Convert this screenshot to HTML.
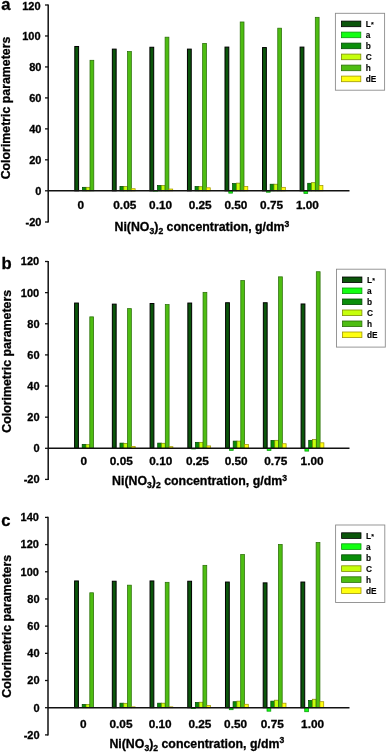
<!DOCTYPE html>
<html><head><meta charset="utf-8"><style>
html,body{margin:0;padding:0;background:#fff;}
body{width:387px;height:752px;overflow:hidden;}
svg{display:block;filter:blur(0.3px);}
text{font-family:"Liberation Sans", sans-serif;font-weight:bold;fill:#000;stroke:#000;stroke-width:0.3px;}
.t{font-size:11px;}
.xt{font-size:12.35px;}
.sub{font-size:8.6px;}
.yt{font-size:12.35px;}
.lt{font-size:16.6px;}
.lg{font-size:8.3px;stroke-width:0.12px;}
.ast{font-size:7px;}
</style></head><body>
<svg width="387" height="752" viewBox="0 0 387 752">
<rect x="0" y="0" width="387" height="752" fill="#fff"/>
<rect x="74.80" y="46.48" width="3.80" height="144.32" fill="#0b560b" stroke="#000000" stroke-width="1.0"/>
<rect x="82.40" y="187.33" width="3.80" height="3.47" fill="#0a8e0a" stroke="#034a03" stroke-width="0.75"/>
<rect x="86.20" y="187.33" width="3.80" height="3.47" fill="#c6ff0c" stroke="#7e8e06" stroke-width="0.75"/>
<rect x="90.00" y="60.29" width="3.80" height="130.51" fill="#4ebd12" stroke="#2a6e08" stroke-width="0.75"/>
<rect x="93.80" y="190.82" width="3.80" height="-0.02" fill="#ffff10" stroke="#a09800" stroke-width="0.75"/>
<rect x="112.35" y="49.12" width="3.80" height="141.68" fill="#0b560b" stroke="#000000" stroke-width="1.0"/>
<rect x="119.95" y="186.40" width="3.80" height="4.40" fill="#0a8e0a" stroke="#034a03" stroke-width="0.75"/>
<rect x="123.75" y="186.55" width="3.80" height="4.25" fill="#c6ff0c" stroke="#7e8e06" stroke-width="0.75"/>
<rect x="127.55" y="51.60" width="3.80" height="139.20" fill="#4ebd12" stroke="#2a6e08" stroke-width="0.75"/>
<rect x="131.35" y="188.72" width="3.80" height="2.08" fill="#ffff10" stroke="#a09800" stroke-width="0.75"/>
<rect x="149.90" y="47.26" width="3.80" height="143.54" fill="#0b560b" stroke="#000000" stroke-width="1.0"/>
<rect x="153.70" y="190.80" width="3.80" height="0.33" fill="#12ff12" stroke="#0a9a0a" stroke-width="0.75"/>
<rect x="157.50" y="185.47" width="3.80" height="5.33" fill="#0a8e0a" stroke="#034a03" stroke-width="0.75"/>
<rect x="161.30" y="185.62" width="3.80" height="5.18" fill="#c6ff0c" stroke="#7e8e06" stroke-width="0.75"/>
<rect x="165.10" y="37.18" width="3.80" height="153.62" fill="#4ebd12" stroke="#2a6e08" stroke-width="0.75"/>
<rect x="168.90" y="189.03" width="3.80" height="1.77" fill="#ffff10" stroke="#a09800" stroke-width="0.75"/>
<rect x="187.45" y="49.12" width="3.80" height="141.68" fill="#0b560b" stroke="#000000" stroke-width="1.0"/>
<rect x="195.05" y="186.55" width="3.80" height="4.25" fill="#0a8e0a" stroke="#034a03" stroke-width="0.75"/>
<rect x="198.85" y="186.71" width="3.80" height="4.09" fill="#c6ff0c" stroke="#7e8e06" stroke-width="0.75"/>
<rect x="202.65" y="43.38" width="3.80" height="147.42" fill="#4ebd12" stroke="#2a6e08" stroke-width="0.75"/>
<rect x="206.45" y="187.79" width="3.80" height="3.01" fill="#ffff10" stroke="#a09800" stroke-width="0.75"/>
<rect x="225.00" y="47.10" width="3.80" height="143.70" fill="#0b560b" stroke="#000000" stroke-width="1.0"/>
<rect x="228.80" y="190.80" width="3.80" height="2.34" fill="#12ff12" stroke="#0a9a0a" stroke-width="0.75"/>
<rect x="232.60" y="183.61" width="3.80" height="7.19" fill="#0a8e0a" stroke="#034a03" stroke-width="0.75"/>
<rect x="236.40" y="183.14" width="3.80" height="7.66" fill="#c6ff0c" stroke="#7e8e06" stroke-width="0.75"/>
<rect x="240.20" y="21.98" width="3.80" height="168.82" fill="#4ebd12" stroke="#2a6e08" stroke-width="0.75"/>
<rect x="244.00" y="186.40" width="3.80" height="4.40" fill="#ffff10" stroke="#a09800" stroke-width="0.75"/>
<rect x="262.55" y="47.57" width="3.80" height="143.23" fill="#0b560b" stroke="#000000" stroke-width="1.0"/>
<rect x="266.35" y="190.80" width="3.80" height="1.41" fill="#12ff12" stroke="#0a9a0a" stroke-width="0.75"/>
<rect x="270.15" y="184.23" width="3.80" height="6.57" fill="#0a8e0a" stroke="#034a03" stroke-width="0.75"/>
<rect x="273.95" y="184.23" width="3.80" height="6.57" fill="#c6ff0c" stroke="#7e8e06" stroke-width="0.75"/>
<rect x="277.75" y="28.18" width="3.80" height="162.62" fill="#4ebd12" stroke="#2a6e08" stroke-width="0.75"/>
<rect x="281.55" y="187.33" width="3.80" height="3.47" fill="#ffff10" stroke="#a09800" stroke-width="0.75"/>
<rect x="300.10" y="47.10" width="3.80" height="143.70" fill="#0b560b" stroke="#000000" stroke-width="1.0"/>
<rect x="303.90" y="190.80" width="3.80" height="2.65" fill="#12ff12" stroke="#0a9a0a" stroke-width="0.75"/>
<rect x="307.70" y="183.29" width="3.80" height="7.51" fill="#0a8e0a" stroke="#034a03" stroke-width="0.75"/>
<rect x="311.50" y="182.67" width="3.80" height="8.13" fill="#c6ff0c" stroke="#7e8e06" stroke-width="0.75"/>
<rect x="315.30" y="17.32" width="3.80" height="173.48" fill="#4ebd12" stroke="#2a6e08" stroke-width="0.75"/>
<rect x="319.10" y="185.62" width="3.80" height="5.18" fill="#ffff10" stroke="#a09800" stroke-width="0.75"/>
<line x1="48.20" y1="190.80" x2="349.50" y2="190.80" stroke="#111" stroke-width="1.5"/>
<line x1="48.20" y1="4.40" x2="48.20" y2="222.60" stroke="#111" stroke-width="1.5"/>
<line x1="45.0" y1="222.00" x2="48.20" y2="222.00" stroke="#111" stroke-width="1.3"/>
<text x="41.40" y="225.90" text-anchor="end" class="t">-20</text>
<line x1="45.0" y1="190.80" x2="48.20" y2="190.80" stroke="#111" stroke-width="1.3"/>
<text x="41.40" y="194.70" text-anchor="end" class="t">0</text>
<line x1="45.0" y1="159.83" x2="48.20" y2="159.83" stroke="#111" stroke-width="1.3"/>
<text x="41.40" y="163.73" text-anchor="end" class="t">20</text>
<line x1="45.0" y1="128.87" x2="48.20" y2="128.87" stroke="#111" stroke-width="1.3"/>
<text x="41.40" y="132.77" text-anchor="end" class="t">40</text>
<line x1="45.0" y1="97.90" x2="48.20" y2="97.90" stroke="#111" stroke-width="1.3"/>
<text x="41.40" y="101.80" text-anchor="end" class="t">60</text>
<line x1="45.0" y1="66.93" x2="48.20" y2="66.93" stroke="#111" stroke-width="1.3"/>
<text x="41.40" y="70.83" text-anchor="end" class="t">80</text>
<line x1="45.0" y1="35.97" x2="48.20" y2="35.97" stroke="#111" stroke-width="1.3"/>
<text x="40.60" y="39.87" text-anchor="end" class="t">100</text>
<line x1="45.0" y1="5.00" x2="48.20" y2="5.00" stroke="#111" stroke-width="1.3"/>
<text x="40.60" y="10.00" text-anchor="end" class="t">120</text>
<text transform="translate(77.50,209.00) scale(1.075,1)" class="t xl">0</text>
<text transform="translate(113.30,209.00) scale(1.075,1)" class="t xl">0.05</text>
<text transform="translate(149.10,209.00) scale(1.075,1)" class="t xl">0.10</text>
<text transform="translate(188.70,209.00) scale(1.075,1)" class="t xl">0.25</text>
<text transform="translate(224.40,209.00) scale(1.075,1)" class="t xl">0.50</text>
<text transform="translate(260.10,209.00) scale(1.075,1)" class="t xl">0.75</text>
<text transform="translate(295.90,209.00) scale(1.075,1)" class="t xl">1.00</text>
<text x="114.50" y="231.20" class="xt">Ni(NO<tspan dy="3" class="sub">3</tspan><tspan dy="-3">)</tspan><tspan dy="3" class="sub">2</tspan><tspan dy="-3"> concentration, g/dm</tspan><tspan dy="-4.6" class="sub">3</tspan></text>
<text transform="translate(9.60,108.00) rotate(-90)" text-anchor="middle" class="yt">Colorimetric parameters</text>
<text x="1.20" y="10.40" class="lt">a</text>
<rect x="335.40" y="13.30" width="49.20" height="76.90" fill="#fff" stroke="#8c8c8c" stroke-width="0.9"/>
<rect x="341.40" y="21.10" width="19.4" height="5.6" fill="#0b560b" stroke="#000000" stroke-width="0.8"/>
<text x="365.80" y="27.20" class="lg">L<tspan class="ast" dx="0.2">*</tspan></text>
<rect x="341.40" y="32.10" width="19.4" height="5.6" fill="#12ff12" stroke="#0a9a0a" stroke-width="0.8"/>
<text x="365.80" y="38.20" class="lg">a</text>
<rect x="341.40" y="43.10" width="19.4" height="5.6" fill="#0a8e0a" stroke="#034a03" stroke-width="0.8"/>
<text x="365.80" y="49.20" class="lg">b</text>
<rect x="341.40" y="54.10" width="19.4" height="5.6" fill="#c6ff0c" stroke="#7e8e06" stroke-width="0.8"/>
<text x="365.80" y="60.20" class="lg">C</text>
<rect x="341.40" y="65.10" width="19.4" height="5.6" fill="#4ebd12" stroke="#2a6e08" stroke-width="0.8"/>
<text x="365.80" y="71.20" class="lg">h</text>
<rect x="341.40" y="76.10" width="19.4" height="5.6" fill="#ffff10" stroke="#a09800" stroke-width="0.8"/>
<text x="365.80" y="82.20" class="lg">dE</text>
<rect x="74.60" y="303.05" width="3.80" height="145.25" fill="#0b560b" stroke="#000000" stroke-width="1.0"/>
<rect x="82.20" y="444.36" width="3.80" height="3.94" fill="#0a8e0a" stroke="#034a03" stroke-width="0.75"/>
<rect x="86.00" y="444.67" width="3.80" height="3.63" fill="#c6ff0c" stroke="#7e8e06" stroke-width="0.75"/>
<rect x="89.80" y="316.85" width="3.80" height="131.45" fill="#4ebd12" stroke="#2a6e08" stroke-width="0.75"/>
<rect x="112.35" y="304.14" width="3.80" height="144.16" fill="#0b560b" stroke="#000000" stroke-width="1.0"/>
<rect x="119.95" y="443.12" width="3.80" height="5.18" fill="#0a8e0a" stroke="#034a03" stroke-width="0.75"/>
<rect x="123.75" y="443.43" width="3.80" height="4.87" fill="#c6ff0c" stroke="#7e8e06" stroke-width="0.75"/>
<rect x="127.55" y="308.63" width="3.80" height="139.67" fill="#4ebd12" stroke="#2a6e08" stroke-width="0.75"/>
<rect x="131.35" y="446.38" width="3.80" height="1.92" fill="#ffff10" stroke="#a09800" stroke-width="0.75"/>
<rect x="150.10" y="303.52" width="3.80" height="144.78" fill="#0b560b" stroke="#000000" stroke-width="1.0"/>
<rect x="157.70" y="443.12" width="3.80" height="5.18" fill="#0a8e0a" stroke="#034a03" stroke-width="0.75"/>
<rect x="161.50" y="443.28" width="3.80" height="5.02" fill="#c6ff0c" stroke="#7e8e06" stroke-width="0.75"/>
<rect x="165.30" y="304.60" width="3.80" height="143.70" fill="#4ebd12" stroke="#2a6e08" stroke-width="0.75"/>
<rect x="169.10" y="446.69" width="3.80" height="1.61" fill="#ffff10" stroke="#a09800" stroke-width="0.75"/>
<rect x="187.85" y="303.05" width="3.80" height="145.25" fill="#0b560b" stroke="#000000" stroke-width="1.0"/>
<rect x="191.65" y="448.30" width="3.80" height="0.64" fill="#12ff12" stroke="#0a9a0a" stroke-width="0.75"/>
<rect x="195.45" y="442.35" width="3.80" height="5.95" fill="#0a8e0a" stroke="#034a03" stroke-width="0.75"/>
<rect x="199.25" y="442.35" width="3.80" height="5.95" fill="#c6ff0c" stroke="#7e8e06" stroke-width="0.75"/>
<rect x="203.05" y="292.35" width="3.80" height="155.95" fill="#4ebd12" stroke="#2a6e08" stroke-width="0.75"/>
<rect x="206.85" y="445.91" width="3.80" height="2.39" fill="#ffff10" stroke="#a09800" stroke-width="0.75"/>
<rect x="225.60" y="302.74" width="3.80" height="145.56" fill="#0b560b" stroke="#000000" stroke-width="1.0"/>
<rect x="229.40" y="448.30" width="3.80" height="2.03" fill="#12ff12" stroke="#0a9a0a" stroke-width="0.75"/>
<rect x="233.20" y="441.11" width="3.80" height="7.19" fill="#0a8e0a" stroke="#034a03" stroke-width="0.75"/>
<rect x="237.00" y="441.11" width="3.80" height="7.19" fill="#c6ff0c" stroke="#7e8e06" stroke-width="0.75"/>
<rect x="240.80" y="280.56" width="3.80" height="167.74" fill="#4ebd12" stroke="#2a6e08" stroke-width="0.75"/>
<rect x="244.60" y="444.52" width="3.80" height="3.78" fill="#ffff10" stroke="#a09800" stroke-width="0.75"/>
<rect x="263.35" y="302.74" width="3.80" height="145.56" fill="#0b560b" stroke="#000000" stroke-width="1.0"/>
<rect x="267.15" y="448.30" width="3.80" height="2.19" fill="#12ff12" stroke="#0a9a0a" stroke-width="0.75"/>
<rect x="270.95" y="440.48" width="3.80" height="7.82" fill="#0a8e0a" stroke="#034a03" stroke-width="0.75"/>
<rect x="274.75" y="440.33" width="3.80" height="7.97" fill="#c6ff0c" stroke="#7e8e06" stroke-width="0.75"/>
<rect x="278.55" y="276.84" width="3.80" height="171.46" fill="#4ebd12" stroke="#2a6e08" stroke-width="0.75"/>
<rect x="282.35" y="443.74" width="3.80" height="4.56" fill="#ffff10" stroke="#a09800" stroke-width="0.75"/>
<rect x="301.10" y="303.98" width="3.80" height="144.32" fill="#0b560b" stroke="#000000" stroke-width="1.0"/>
<rect x="304.90" y="448.30" width="3.80" height="2.81" fill="#12ff12" stroke="#0a9a0a" stroke-width="0.75"/>
<rect x="308.70" y="440.33" width="3.80" height="7.97" fill="#0a8e0a" stroke="#034a03" stroke-width="0.75"/>
<rect x="312.50" y="439.55" width="3.80" height="8.75" fill="#c6ff0c" stroke="#7e8e06" stroke-width="0.75"/>
<rect x="316.30" y="271.72" width="3.80" height="176.58" fill="#4ebd12" stroke="#2a6e08" stroke-width="0.75"/>
<rect x="320.10" y="442.81" width="3.80" height="5.49" fill="#ffff10" stroke="#a09800" stroke-width="0.75"/>
<line x1="48.20" y1="448.30" x2="349.50" y2="448.30" stroke="#111" stroke-width="1.5"/>
<line x1="48.20" y1="260.90" x2="48.20" y2="480.00" stroke="#111" stroke-width="1.5"/>
<line x1="45.0" y1="479.40" x2="48.20" y2="479.40" stroke="#111" stroke-width="1.3"/>
<text x="39.60" y="483.30" text-anchor="end" class="t">-20</text>
<line x1="45.0" y1="448.30" x2="48.20" y2="448.30" stroke="#111" stroke-width="1.3"/>
<text x="39.60" y="452.20" text-anchor="end" class="t">0</text>
<line x1="45.0" y1="417.17" x2="48.20" y2="417.17" stroke="#111" stroke-width="1.3"/>
<text x="39.60" y="421.07" text-anchor="end" class="t">20</text>
<line x1="45.0" y1="386.03" x2="48.20" y2="386.03" stroke="#111" stroke-width="1.3"/>
<text x="39.60" y="389.93" text-anchor="end" class="t">40</text>
<line x1="45.0" y1="354.90" x2="48.20" y2="354.90" stroke="#111" stroke-width="1.3"/>
<text x="39.60" y="358.80" text-anchor="end" class="t">60</text>
<line x1="45.0" y1="323.77" x2="48.20" y2="323.77" stroke="#111" stroke-width="1.3"/>
<text x="39.60" y="327.67" text-anchor="end" class="t">80</text>
<line x1="45.0" y1="292.63" x2="48.20" y2="292.63" stroke="#111" stroke-width="1.3"/>
<text x="39.20" y="296.53" text-anchor="end" class="t">100</text>
<line x1="45.0" y1="261.50" x2="48.20" y2="261.50" stroke="#111" stroke-width="1.3"/>
<text x="39.20" y="265.40" text-anchor="end" class="t">120</text>
<text transform="translate(80.50,464.80) scale(1.075,1)" class="t xl">0</text>
<text transform="translate(109.80,464.80) scale(1.075,1)" class="t xl">0.05</text>
<text transform="translate(149.30,464.80) scale(1.075,1)" class="t xl">0.10</text>
<text transform="translate(185.90,464.80) scale(1.075,1)" class="t xl">0.25</text>
<text transform="translate(224.70,464.80) scale(1.075,1)" class="t xl">0.50</text>
<text transform="translate(264.30,464.80) scale(1.075,1)" class="t xl">0.75</text>
<text transform="translate(300.60,464.80) scale(1.075,1)" class="t xl">1.00</text>
<text x="112.10" y="485.10" class="xt">Ni(NO<tspan dy="3" class="sub">3</tspan><tspan dy="-3">)</tspan><tspan dy="3" class="sub">2</tspan><tspan dy="-3"> concentration, g/dm</tspan><tspan dy="-4.6" class="sub">3</tspan></text>
<text transform="translate(10.80,361.30) rotate(-90)" text-anchor="middle" class="yt">Colorimetric parameters</text>
<text x="1.40" y="268.70" class="lt">b</text>
<rect x="336.50" y="269.20" width="48.80" height="77.90" fill="#fff" stroke="#8c8c8c" stroke-width="0.9"/>
<rect x="342.50" y="277.00" width="19.4" height="5.6" fill="#0b560b" stroke="#000000" stroke-width="0.8"/>
<text x="366.90" y="283.10" class="lg">L<tspan class="ast" dx="0.2">*</tspan></text>
<rect x="342.50" y="288.00" width="19.4" height="5.6" fill="#12ff12" stroke="#0a9a0a" stroke-width="0.8"/>
<text x="366.90" y="294.10" class="lg">a</text>
<rect x="342.50" y="299.00" width="19.4" height="5.6" fill="#0a8e0a" stroke="#034a03" stroke-width="0.8"/>
<text x="366.90" y="305.10" class="lg">b</text>
<rect x="342.50" y="310.00" width="19.4" height="5.6" fill="#c6ff0c" stroke="#7e8e06" stroke-width="0.8"/>
<text x="366.90" y="316.10" class="lg">C</text>
<rect x="342.50" y="321.00" width="19.4" height="5.6" fill="#4ebd12" stroke="#2a6e08" stroke-width="0.8"/>
<text x="366.90" y="327.10" class="lg">h</text>
<rect x="342.50" y="332.00" width="19.4" height="5.6" fill="#ffff10" stroke="#a09800" stroke-width="0.8"/>
<text x="366.90" y="338.10" class="lg">dE</text>
<rect x="74.60" y="580.96" width="3.80" height="126.74" fill="#0b560b" stroke="#000000" stroke-width="1.0"/>
<rect x="82.20" y="704.42" width="3.80" height="3.28" fill="#0a8e0a" stroke="#034a03" stroke-width="0.75"/>
<rect x="86.00" y="704.55" width="3.80" height="3.15" fill="#c6ff0c" stroke="#7e8e06" stroke-width="0.75"/>
<rect x="89.80" y="592.78" width="3.80" height="114.92" fill="#4ebd12" stroke="#2a6e08" stroke-width="0.75"/>
<rect x="112.32" y="581.24" width="3.80" height="126.46" fill="#0b560b" stroke="#000000" stroke-width="1.0"/>
<rect x="119.92" y="703.19" width="3.80" height="4.51" fill="#0a8e0a" stroke="#034a03" stroke-width="0.75"/>
<rect x="123.72" y="703.33" width="3.80" height="4.37" fill="#c6ff0c" stroke="#7e8e06" stroke-width="0.75"/>
<rect x="127.52" y="585.17" width="3.80" height="122.53" fill="#4ebd12" stroke="#2a6e08" stroke-width="0.75"/>
<rect x="131.32" y="706.86" width="3.80" height="0.84" fill="#ffff10" stroke="#a09800" stroke-width="0.75"/>
<rect x="150.04" y="580.96" width="3.80" height="126.74" fill="#0b560b" stroke="#000000" stroke-width="1.0"/>
<rect x="157.64" y="703.19" width="3.80" height="4.51" fill="#0a8e0a" stroke="#034a03" stroke-width="0.75"/>
<rect x="161.44" y="703.19" width="3.80" height="4.51" fill="#c6ff0c" stroke="#7e8e06" stroke-width="0.75"/>
<rect x="165.24" y="582.32" width="3.80" height="125.38" fill="#4ebd12" stroke="#2a6e08" stroke-width="0.75"/>
<rect x="169.04" y="706.86" width="3.80" height="0.84" fill="#ffff10" stroke="#a09800" stroke-width="0.75"/>
<rect x="187.76" y="581.24" width="3.80" height="126.46" fill="#0b560b" stroke="#000000" stroke-width="1.0"/>
<rect x="191.56" y="707.70" width="3.80" height="0.91" fill="#12ff12" stroke="#0a9a0a" stroke-width="0.75"/>
<rect x="195.36" y="702.52" width="3.80" height="5.18" fill="#0a8e0a" stroke="#034a03" stroke-width="0.75"/>
<rect x="199.16" y="702.24" width="3.80" height="5.46" fill="#c6ff0c" stroke="#7e8e06" stroke-width="0.75"/>
<rect x="202.96" y="565.34" width="3.80" height="142.36" fill="#4ebd12" stroke="#2a6e08" stroke-width="0.75"/>
<rect x="206.76" y="705.50" width="3.80" height="2.20" fill="#ffff10" stroke="#a09800" stroke-width="0.75"/>
<rect x="225.48" y="582.05" width="3.80" height="125.65" fill="#0b560b" stroke="#000000" stroke-width="1.0"/>
<rect x="229.28" y="707.70" width="3.80" height="2.00" fill="#12ff12" stroke="#0a9a0a" stroke-width="0.75"/>
<rect x="233.08" y="701.70" width="3.80" height="6.00" fill="#0a8e0a" stroke="#034a03" stroke-width="0.75"/>
<rect x="236.88" y="701.16" width="3.80" height="6.54" fill="#c6ff0c" stroke="#7e8e06" stroke-width="0.75"/>
<rect x="240.68" y="554.47" width="3.80" height="153.23" fill="#4ebd12" stroke="#2a6e08" stroke-width="0.75"/>
<rect x="244.48" y="704.28" width="3.80" height="3.42" fill="#ffff10" stroke="#a09800" stroke-width="0.75"/>
<rect x="263.20" y="582.87" width="3.80" height="124.83" fill="#0b560b" stroke="#000000" stroke-width="1.0"/>
<rect x="267.00" y="707.70" width="3.80" height="3.49" fill="#12ff12" stroke="#0a9a0a" stroke-width="0.75"/>
<rect x="270.80" y="701.16" width="3.80" height="6.54" fill="#0a8e0a" stroke="#034a03" stroke-width="0.75"/>
<rect x="274.60" y="700.21" width="3.80" height="7.49" fill="#c6ff0c" stroke="#7e8e06" stroke-width="0.75"/>
<rect x="278.40" y="544.42" width="3.80" height="163.28" fill="#4ebd12" stroke="#2a6e08" stroke-width="0.75"/>
<rect x="282.20" y="703.19" width="3.80" height="4.51" fill="#ffff10" stroke="#a09800" stroke-width="0.75"/>
<rect x="300.92" y="582.05" width="3.80" height="125.65" fill="#0b560b" stroke="#000000" stroke-width="1.0"/>
<rect x="304.72" y="707.70" width="3.80" height="4.03" fill="#12ff12" stroke="#0a9a0a" stroke-width="0.75"/>
<rect x="308.52" y="700.48" width="3.80" height="7.22" fill="#0a8e0a" stroke="#034a03" stroke-width="0.75"/>
<rect x="312.32" y="699.25" width="3.80" height="8.45" fill="#c6ff0c" stroke="#7e8e06" stroke-width="0.75"/>
<rect x="316.12" y="542.51" width="3.80" height="165.19" fill="#4ebd12" stroke="#2a6e08" stroke-width="0.75"/>
<rect x="319.92" y="701.70" width="3.80" height="6.00" fill="#ffff10" stroke="#a09800" stroke-width="0.75"/>
<line x1="48.00" y1="707.70" x2="349.50" y2="707.70" stroke="#111" stroke-width="1.5"/>
<line x1="48.00" y1="516.80" x2="48.00" y2="735.50" stroke="#111" stroke-width="1.5"/>
<line x1="45.0" y1="734.90" x2="48.00" y2="734.90" stroke="#111" stroke-width="1.3"/>
<text x="39.60" y="738.80" text-anchor="end" class="t">-20</text>
<line x1="45.0" y1="707.70" x2="48.00" y2="707.70" stroke="#111" stroke-width="1.3"/>
<text x="39.60" y="711.60" text-anchor="end" class="t">0</text>
<line x1="45.0" y1="680.51" x2="48.00" y2="680.51" stroke="#111" stroke-width="1.3"/>
<text x="39.60" y="684.41" text-anchor="end" class="t">20</text>
<line x1="45.0" y1="653.33" x2="48.00" y2="653.33" stroke="#111" stroke-width="1.3"/>
<text x="39.60" y="657.23" text-anchor="end" class="t">40</text>
<line x1="45.0" y1="626.14" x2="48.00" y2="626.14" stroke="#111" stroke-width="1.3"/>
<text x="39.60" y="630.04" text-anchor="end" class="t">60</text>
<line x1="45.0" y1="598.96" x2="48.00" y2="598.96" stroke="#111" stroke-width="1.3"/>
<text x="39.60" y="602.86" text-anchor="end" class="t">80</text>
<line x1="45.0" y1="571.77" x2="48.00" y2="571.77" stroke="#111" stroke-width="1.3"/>
<text x="38.90" y="575.67" text-anchor="end" class="t">100</text>
<line x1="45.0" y1="544.59" x2="48.00" y2="544.59" stroke="#111" stroke-width="1.3"/>
<text x="38.90" y="548.49" text-anchor="end" class="t">120</text>
<line x1="45.0" y1="517.40" x2="48.00" y2="517.40" stroke="#111" stroke-width="1.3"/>
<text x="38.90" y="521.30" text-anchor="end" class="t">140</text>
<text transform="translate(80.10,728.00) scale(1.075,1)" class="t xl">0</text>
<text transform="translate(109.50,728.00) scale(1.075,1)" class="t xl">0.05</text>
<text transform="translate(148.70,728.00) scale(1.075,1)" class="t xl">0.10</text>
<text transform="translate(188.40,728.00) scale(1.075,1)" class="t xl">0.25</text>
<text transform="translate(224.10,728.00) scale(1.075,1)" class="t xl">0.50</text>
<text transform="translate(260.80,728.00) scale(1.075,1)" class="t xl">0.75</text>
<text transform="translate(301.10,728.00) scale(1.075,1)" class="t xl">1.00</text>
<text x="109.40" y="747.70" class="xt">Ni(NO<tspan dy="3" class="sub">3</tspan><tspan dy="-3">)</tspan><tspan dy="3" class="sub">2</tspan><tspan dy="-3"> concentration, g/dm</tspan><tspan dy="-4.6" class="sub">3</tspan></text>
<text transform="translate(10.80,626.30) rotate(-90)" text-anchor="middle" class="yt">Colorimetric parameters</text>
<text x="1.20" y="525.50" class="lt">c</text>
<rect x="335.60" y="525.00" width="49.20" height="77.50" fill="#fff" stroke="#8c8c8c" stroke-width="0.9"/>
<rect x="341.60" y="532.80" width="19.4" height="5.6" fill="#0b560b" stroke="#000000" stroke-width="0.8"/>
<text x="366.00" y="538.90" class="lg">L<tspan class="ast" dx="0.2">*</tspan></text>
<rect x="341.60" y="543.80" width="19.4" height="5.6" fill="#12ff12" stroke="#0a9a0a" stroke-width="0.8"/>
<text x="366.00" y="549.90" class="lg">a</text>
<rect x="341.60" y="554.80" width="19.4" height="5.6" fill="#0a8e0a" stroke="#034a03" stroke-width="0.8"/>
<text x="366.00" y="560.90" class="lg">b</text>
<rect x="341.60" y="565.80" width="19.4" height="5.6" fill="#c6ff0c" stroke="#7e8e06" stroke-width="0.8"/>
<text x="366.00" y="571.90" class="lg">C</text>
<rect x="341.60" y="576.80" width="19.4" height="5.6" fill="#4ebd12" stroke="#2a6e08" stroke-width="0.8"/>
<text x="366.00" y="582.90" class="lg">h</text>
<rect x="341.60" y="587.80" width="19.4" height="5.6" fill="#ffff10" stroke="#a09800" stroke-width="0.8"/>
<text x="366.00" y="593.90" class="lg">dE</text>
</svg>
</body></html>
